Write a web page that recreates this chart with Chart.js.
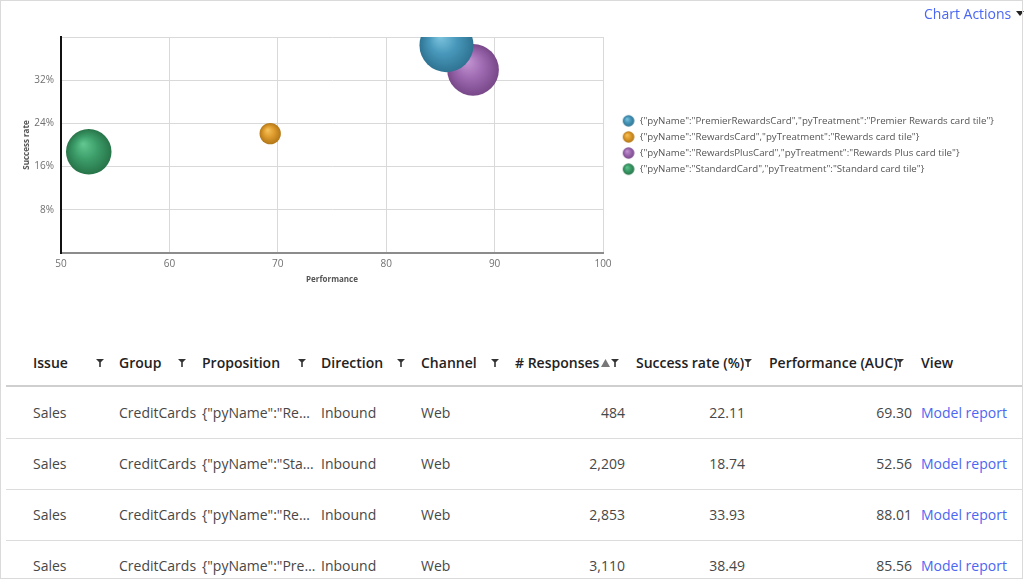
<!DOCTYPE html>
<html>
<head>
<meta charset="utf-8">
<script src="https://cdn.jsdelivr.net/npm/chart.js@4.4.1/dist/chart.umd.min.js"></script>
<style>
html,body{margin:0;padding:0;background:#fff;}
body{width:1024px;height:579px;position:relative;overflow:hidden;font-family:"Open Sans",sans-serif;}
#frame{position:absolute;left:0;top:0;width:1021px;height:577px;border:1px solid #dadada;pointer-events:none;z-index:5;}
#chartBox{position:absolute;left:0;top:0;width:1024px;height:300px;}
#actions{position:absolute;left:924px;top:4px;line-height:20px;font-size:14px;color:#4a66f2;white-space:nowrap;}
#actions .caret{display:inline-block;margin-left:5px;vertical-align:middle;position:relative;top:-2px;}
.hdr{position:absolute;left:6px;top:339px;width:1016px;height:46px;border-bottom:2px solid #cfcfcf;}
.row{position:absolute;left:6px;width:1016px;height:50px;border-bottom:1px solid #dcdcdc;}
.cell{position:absolute;top:0;height:100%;line-height:50px;font-size:14px;color:#474747;white-space:nowrap;}
.hcell{position:absolute;top:0;line-height:48px;font-size:14px;font-weight:600;color:#222;white-space:nowrap;}
.icon{position:absolute;top:20px;}
.link{color:#4a66f2;}
.trunc{overflow:hidden;text-overflow:ellipsis;}
</style>
</head>
<body>
<div id="frame"></div>
<div id="chartBox"><canvas id="c"></canvas></div>
<div id="actions">Chart Actions<svg class="caret" width="8" height="5"><polygon points="0,0 8,0 4,5" fill="#222"/></svg></div>
<div id="table"></div>
<script>
// ---- data ----
const propositions = ['PremierRewardsCard', 'RewardsCard', 'RewardsPlusCard', 'StandardCard'];
const treatments = ['Premier Rewards card tile', 'Rewards card tile', 'Rewards Plus card tile', 'Standard card tile'];
const performance = [85.56, 69.30, 88.01, 52.56];
const successRate = [38.49, 22.11, 33.93, 18.74];
const responses = [3110, 484, 2853, 2209];
const issue = 'Sales';
const group = 'CreditCards';
const direction = 'Inbound';
const channel = 'Web';
const yTicks = [8, 16, 24, 32];
const xTicks = [50, 60, 70, 80, 90, 100];

// ---- styles ----
const shades = [
  {light:'#80c6e0', base:'#4898bb', dark:'#2f7392'},
  {light:'#f7c45c', base:'#df9c2e', dark:'#b27717'},
  {light:'#c598d4', base:'#9f6bb2', dark:'#784889'},
  {light:'#62c892', base:'#3d9e6a', dark:'#277449'}
];
const MAX_R = 27;
const maxResp = Math.max(...responses);
function bubbleRadius(v){ return MAX_R * Math.sqrt(v / maxResp); }

function labelText(i){ return JSON.stringify({pyName: propositions[i], pyTreatment: treatments[i]}); }

// legend icons (gradient balls)
const LEG = {pad: 6.4, box: 25.6, offset: 6.3, r: 5.8};
function legendIcon(s){
  const w = Math.ceil(2 * (LEG.offset + LEG.r + 1)), h = 14;
  const cv = document.createElement('canvas'); cv.width = w; cv.height = h;
  const c = cv.getContext('2d');
  const cx = w/2 + LEG.offset, cy = h/2;
  const g = c.createRadialGradient(cx - LEG.r*0.3, cy - LEG.r*0.35, 0, cx, cy, LEG.r);
  g.addColorStop(0, s.light); g.addColorStop(0.5, s.base); g.addColorStop(1, s.dark);
  c.fillStyle = g; c.beginPath(); c.arc(cx, cy, LEG.r, 0, Math.PI*2); c.fill();
  return cv;
}
const icons = shades.map(legendIcon);

const datasets = propositions.map((p, i) => ({
  label: labelText(i),
  data: [{x: performance[i], y: successRate[i], responses: responses[i]}],
  borderWidth: 0,
  clip: 0,
  radius: (ctx) => ctx.raw ? bubbleRadius(ctx.raw.responses) : 5,
  hoverRadius: 0,
  backgroundColor: (ctx) => {
    const s = shades[i];
    if (ctx.type !== 'data' || !ctx.raw) return s.base;
    const ch = ctx.chart, xs = ch.scales.x, ys = ch.scales.y;
    if (!xs || !ys) return s.base;
    const px = xs.getPixelForValue(ctx.raw.x), py = ys.getPixelForValue(ctx.raw.y);
    const r = bubbleRadius(ctx.raw.responses);
    if (!isFinite(px) || !isFinite(py)) return s.base;
    const g = ch.ctx.createRadialGradient(px - r*0.25, py - r*0.35, 0, px, py, r);
    g.addColorStop(0, s.light); g.addColorStop(0.5, s.base); g.addColorStop(1, s.dark);
    return g;
  }
}));

const legendWidthPlugin = {
  id: 'legendWidth',
  afterInit(chart){
    const lg = chart.legend;
    if (!lg || lg._patched) return;
    const orig = lg.fit;
    lg.fit = function(){ orig.call(this); this.width = 1024 - 603; };
    lg._patched = true;
  }
};

new Chart(document.getElementById('c'), {
  type: 'bubble',
  data: {datasets},
  plugins: [legendWidthPlugin],
  options: {
    responsive: true,
    maintainAspectRatio: false,
    animation: false,
    events: [],
    layout: {padding: {top: 37, left: 0, right: 0, bottom: 0}},
    plugins: {
      tooltip: {enabled: false},
      legend: {
        position: 'right',
        fullSize: false,
        align: 'center',
        labels: {
          usePointStyle: true,
          pointStyleWidth: LEG.box,
          boxHeight: 10,
          padding: LEG.pad,
          color: '#555',
          font: {family: '"Open Sans", sans-serif', size: 9.7},
          generateLabels(chart){
            return chart.data.datasets.map((d, i) => ({
              text: d.label, fillStyle: shades[i].base, strokeStyle: 'rgba(0,0,0,0)',
              lineWidth: 0, pointStyle: icons[i], hidden: false, datasetIndex: i, fontColor: '#555'
            }));
          }
        }
      }
    },
    scales: {
      x: {
        type: 'linear', min: 50, max: 100,
        afterBuildTicks(s){ s.ticks = xTicks.map(v => ({value: v})); },
        afterFit(s){ s.height = 47; },
        grid: {color: '#d9d9d9', lineWidth: 1, drawTicks: false},
        border: {color: '#8c8c8c', width: 2},
        ticks: {padding: 5, color: '#707070', font: {family: '"Open Sans", sans-serif', size: 10}, maxRotation: 0},
        title: {display: true, text: 'Performance', color: '#555', padding: {top: 0, bottom: 15.2},
                font: {family: '"Open Sans", sans-serif', size: 8, weight: 'bold'}}
      },
      y: {
        type: 'linear', min: 0, max: 40,
        afterBuildTicks(s){ s.ticks = [0, ...yTicks, 40].map(v => ({value: v})); },
        afterFit(s){ s.width = 61; },
        grid: {color: '#d9d9d9', lineWidth: 1, drawTicks: false},
        border: {color: '#111', width: 2},
        ticks: {padding: 7, color: '#707070', font: {family: '"Open Sans", sans-serif', size: 10},
                callback: (v) => yTicks.includes(v) ? v + '%' : ''},
        title: {display: true, text: 'Success rate', color: '#555', padding: {top: 22.2, bottom: 0},
                font: {family: '"Open Sans", sans-serif', size: 8, weight: 'bold'}}
      }
    }
  }
});

// ---- table ----
function funnel(x){
  return '<svg class="icon" style="left:' + x + 'px" width="8" height="8"><path d="M0,0 H8 L4.8,3.2 V8 H3.2 V3.2 Z" fill="#333"/></svg>';
}
function up(x){
  return '<svg class="icon" style="left:' + x + 'px" width="9" height="8"><polygon points="0,8 9,8 4.5,0" fill="#777"/></svg>';
}
const T = document.getElementById('table');
let html = '<div class="hdr">';
html += '<div class="hcell" style="left:27px">Issue</div>' + funnel(90);
html += '<div class="hcell" style="left:113px">Group</div>' + funnel(172);
html += '<div class="hcell" style="left:196px">Proposition</div>' + funnel(292);
html += '<div class="hcell" style="left:315px">Direction</div>' + funnel(391);
html += '<div class="hcell" style="left:415px">Channel</div>' + funnel(485);
html += '<div class="hcell" style="left:509px"># Responses</div>' + up(595) + funnel(605);
html += '<div class="hcell" style="left:630px">Success rate (%)</div>' + funnel(738);
html += '<div class="hcell" style="left:763px">Performance (AUC)</div>' + funnel(890);
html += '<div class="hcell" style="left:915px">View</div>';
html += '</div>';
const order = responses.map((v, i) => i).sort((a, b) => responses[a] - responses[b]);
order.forEach((i, k) => {
  const top = 388 + k * 51;
  html += '<div class="row" style="top:' + top + 'px">';
  html += '<div class="cell" style="left:27px">' + issue + '</div>';
  html += '<div class="cell" style="left:113px">' + group + '</div>';
  html += '<div class="cell trunc" style="left:196px;width:114px">' + labelText(i).replace(/</g,'&lt;') + '</div>';
  html += '<div class="cell" style="left:315px">' + direction + '</div>';
  html += '<div class="cell" style="left:415px">' + channel + '</div>';
  html += '<div class="cell" style="right:' + (1016 - 619) + 'px;text-align:right">' + responses[i].toLocaleString('en-US') + '</div>';
  html += '<div class="cell" style="right:' + (1016 - 739) + 'px;text-align:right">' + successRate[i].toFixed(2) + '</div>';
  html += '<div class="cell" style="right:' + (1016 - 906) + 'px;text-align:right">' + performance[i].toFixed(2) + '</div>';
  html += '<div class="cell link" style="left:915px">Model report</div>';
  html += '</div>';
});
T.innerHTML = html;
</script>
</body>
</html>
